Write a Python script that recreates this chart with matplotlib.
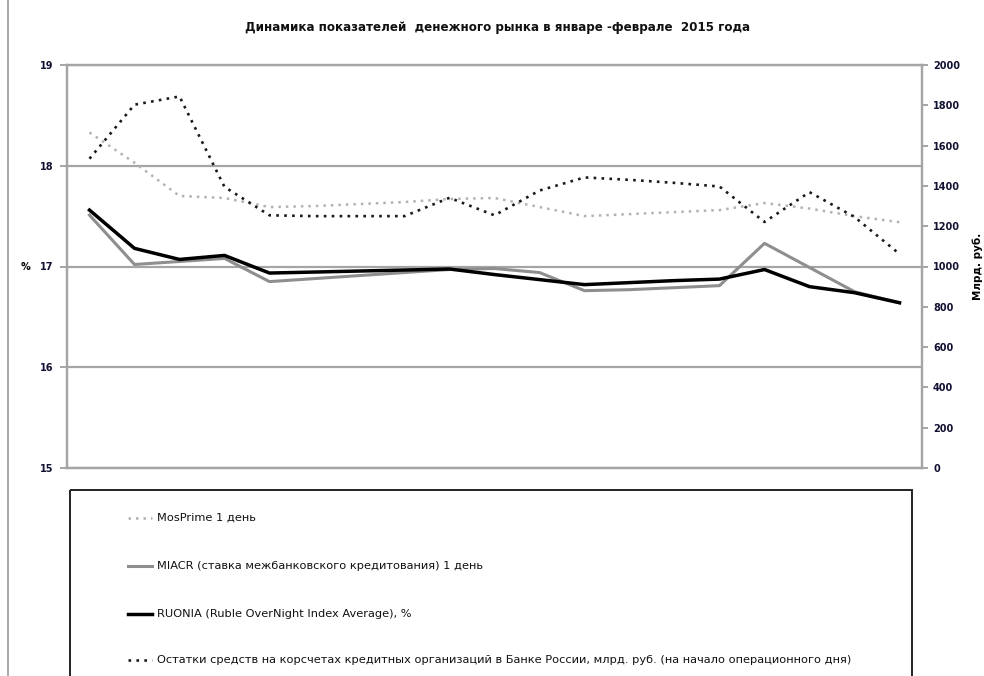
import matplotlib
matplotlib.use("Agg")
import matplotlib.pyplot as plt
from matplotlib.lines import Line2D
from matplotlib.patches import Rectangle

# 19 observation days, January-February 2015 (no date labels in the original)
days = list(range(19))

mosprime = [18.33, 18.03, 17.70, 17.68, 17.59, 17.60, 17.62, 17.64, 17.67, 17.68,
            17.59, 17.50, 17.52, 17.54, 17.56, 17.63, 17.575, 17.50, 17.44]
miacr = [17.51, 17.02, 17.05, 17.08, 16.85, 16.88, 16.91, 16.94, 16.97, 16.98,
         16.94, 16.76, 16.77, 16.79, 16.81, 17.23, 16.99, 16.75, 16.64]
ruonia = [17.56, 17.18, 17.07, 17.11, 16.935, 16.945, 16.955, 16.965, 16.975, 16.92,
          16.87, 16.82, 16.84, 16.86, 16.875, 16.97, 16.80, 16.74, 16.64]
reserves = [1535, 1803, 1844, 1395, 1254, 1250, 1250, 1250, 1341, 1254,
            1377, 1442, 1430, 1415, 1397, 1221, 1369, 1246, 1062]

left_ticks = [15, 16, 17, 18, 19]
right_ticks = list(range(0, 2001, 200))

labels = [
    "MosPrime 1 день",
    "MIACR (ставка межбанковского кредитования) 1 день",
    "RUONIA (Ruble OverNight Index Average), %",
    "Остатки средств на корсчетах кредитных организаций в Банке России, млрд. руб. (на начало операционного дня)",
]

W, H = 984, 676
GRID = "#a5a5a5"
DOT = (0, (1, 2))

styles = [
    dict(color="#b2b2b2", lw=1.8, ls=DOT),
    dict(color="#8e8e8e", lw=2.2, ls="-"),
    dict(color="#000000", lw=2.5, ls="-"),
    dict(color="#1a1a1a", lw=1.9, ls=DOT),
]

fig = plt.figure(figsize=(W / 100, H / 100), dpi=100)
ax = fig.add_axes([67 / W, 1 - 468 / H, (922 - 67) / W, (468 - 65) / H])
ax2 = ax.twinx()

# rates on the left axis, reserves on the right one
ax.plot(days, mosprime, **styles[0])
ax.plot(days, miacr, **styles[1])
ax.plot(days, ruonia, **styles[2])
ax2.plot(days, reserves, **styles[3])

ax.set_xlim(-0.5, len(days) - 0.5)
ax.set_ylim(15, 19)
ax2.set_ylim(0, 2000)
ax.set_yticks(left_ticks)
ax2.set_yticks(right_ticks)
ax.set_xticks([])

ax.grid(axis="y", color=GRID, lw=1.6)
ax.set_axisbelow(True)
for a in (ax, ax2):
    for s in a.spines.values():
        s.set_color(GRID)
        s.set_linewidth(1.6)

ax.tick_params(axis="y", direction="out", length=5, width=1.4, color=GRID, pad=5,
               labelsize=7, labelcolor="#111133")
ax2.tick_params(axis="y", direction="out", length=4, width=1.4, color=GRID, pad=4,
                labelsize=7, labelcolor="#111133")
for t in ax.get_yticklabels() + ax2.get_yticklabels():
    t.set_fontweight("bold")

ax.set_ylabel("%", rotation=0, fontsize=7, fontweight="bold", labelpad=10, va="center")
ax2.set_ylabel("Млрд. руб.", rotation=90, fontsize=7.5, fontweight="bold", labelpad=9)

fig.text(497 / W, 1 - 28 / H,
         "Динамика показателей  денежного рынка в январе -феврале  2015 года",
         ha="center", va="center", fontsize=8.6, fontweight="bold", color="#111111")

# outer border line at the left edge of the picture
fig.add_artist(Line2D([8 / W, 8 / W], [0, 1], color="#9a9a9a", lw=1.2,
                      transform=fig.transFigure))

# legend box, drawn by hand so it runs off the bottom like the original
lax = fig.add_axes([0, 0, 1, 1])
lax.set_xlim(0, W)
lax.set_ylim(H, 0)
lax.axis("off")
lax.add_patch(Rectangle((70, 490), 842, 200, fill=False, edgecolor="#222222", lw=1.4))
row_y = [518, 566, 614, 660]
for st, lab, y in zip(styles, labels, row_y):
    lax.plot([128, 152], [y, y], **st)
    lax.text(157, y, lab, ha="left", va="center", fontsize=8.2, color="#111111")

fig.savefig("out.png", dpi=100)
